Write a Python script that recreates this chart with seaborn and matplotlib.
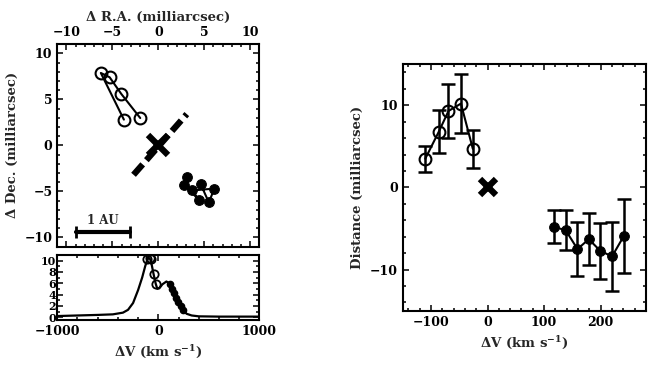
import numpy as np
import matplotlib
matplotlib.use("Agg")
import matplotlib.pyplot as plt
import seaborn as sns
from matplotlib.ticker import MultipleLocator

# Sky positions of the maser spots (milliarcsec), ordered by velocity
ra_open = [-1.97, -4.04, -5.3, -6.26, -3.75]
dec_open = [2.97, 5.6, 7.4, 7.87, 2.8]
ra_fill = [3.1, 2.8, 4.4, 3.7, 6.1, 5.5, 4.6]
dec_fill = [-3.4, -4.3, -5.9, -4.9, -4.7, -6.2, -4.2]

# Disk axis (dashed) and 1 AU scale bar
disk_ra = [-2.7, 3.1]
disk_dec = [-3.2, 3.4]
au_ra = [-8.97, -3.04]
au_dec = [-9.46, -9.46]

# Velocity / distance data
v_open = [-110, -86, -69, -47, -26]
dist_open = [3.5, 6.8, 9.3, 10.2, 4.7]
err_open = [1.6, 2.6, 3.3, 3.6, 2.3]
v_fill = [117, 138, 159, 179, 199, 220, 241]
dist_fill = [-4.8, -5.2, -7.5, -6.3, -7.7, -8.4, -5.9]
err_fill = [2.0, 2.4, 3.3, 3.2, 3.4, 4.2, 4.5]

# Spectrum
spec_v = [-1000, -800, -600, -450, -350, -300, -250, -200, -160, -130, -110, -95,
          -80, -65, -47, -26, -10, 10, 40, 80, 117, 140, 170, 200, 240, 280, 330,
          400, 600, 800, 1000]
spec_f = [0.2, 0.3, 0.4, 0.5, 0.8, 1.3, 2.5, 4.8, 7.0, 9.0, 10.1, 10.5,
          10.2, 9.2, 7.6, 5.9, 5.0, 5.1, 5.8, 6.3, 5.9, 5.1, 3.9, 2.7, 1.3, 0.6, 0.3,
          0.15, 0.1, 0.1, 0.1]
flux_open = [10.2, 10.4, 10.2, 7.6, 5.9]
flux_fill = [5.8, 5.0, 4.2, 3.4, 2.6, 1.9, 1.3]

sns.set_style("ticks")
plt.rcParams["font.family"] = ["DejaVu Serif"]
plt.rcParams["font.weight"] = "bold"
plt.rcParams["axes.labelweight"] = "bold"
plt.rcParams["axes.labelsize"] = 9.5
plt.rcParams["mathtext.fontset"] = "dejavuserif"
plt.rcParams["mathtext.default"] = "bf"
plt.rcParams["lines.scale_dashes"] = False
plt.rcParams["font.size"] = 9

fig = plt.figure(figsize=(6.54, 3.68), dpi=100)
ax_sky = fig.add_axes([0.0876, 0.330, 0.309, 0.550])
ax_spec = fig.add_axes([0.0876, 0.1304, 0.309, 0.177])
ax_dist = fig.add_axes([0.6157, 0.1557, 0.372, 0.670])


def style_axes(ax):
    for sp in ax.spines.values():
        sp.set_linewidth(1.5)
        sp.set_color("black")
    ax.tick_params(which="both", direction="in", top=True, right=True,
                   width=1.1, colors="black", labelsize=9)
    ax.tick_params(which="major", length=4.5)
    ax.tick_params(which="minor", length=2.2)


open_kw = dict(marker="o", markersize=8.5, markerfacecolor="none",
               markeredgecolor="black", markeredgewidth=1.5)
fill_kw = dict(marker="o", markersize=7, markerfacecolor="black",
               markeredgecolor="black")

# --- sky map ---
sns.lineplot(x=ra_open, y=dec_open, sort=False, estimator=None, ax=ax_sky,
             color="black", lw=1.5, **open_kw)
sns.lineplot(x=ra_fill, y=dec_fill, sort=False, estimator=None, ax=ax_sky,
             color="black", lw=1.5, **fill_kw)
ax_sky.plot(disk_ra, disk_dec, color="black", lw=4.5, dashes=(10, 4),
            dash_capstyle="butt")
ax_sky.plot([0], [0], marker="x", color="black", markersize=15, mew=4.5)
ax_sky.plot(au_ra, au_dec, color="black", lw=3, marker="|", markersize=8, mew=2)
ax_sky.text(np.mean(au_ra), au_dec[0] + 0.6, "1 AU", ha="center", va="bottom",
            fontsize=8.5, fontweight="bold")
ax_sky.set_xlim(-11, 11)
ax_sky.set_ylim(-11, 11)
ax_sky.xaxis.set_major_locator(MultipleLocator(5))
ax_sky.xaxis.set_minor_locator(MultipleLocator(1))
ax_sky.yaxis.set_major_locator(MultipleLocator(5))
ax_sky.yaxis.set_minor_locator(MultipleLocator(1))
style_axes(ax_sky)
ax_sky.tick_params(labeltop=True, labelbottom=False)
ax_sky.xaxis.set_label_position("top")
ax_sky.set_xlabel("Δ R.A. (milliarcsec)")
ax_sky.set_ylabel("Δ Dec. (milliarcsec)")

# --- spectrum ---
sns.lineplot(x=spec_v, y=spec_f, sort=False, estimator=None, ax=ax_spec,
             color="black", lw=1.6)
ax_spec.plot(v_open, flux_open, ls="none", marker="o", markersize=6,
             markerfacecolor="none", markeredgecolor="black", mew=1.3)
ax_spec.plot(v_fill, flux_fill, ls="none", marker="o", markersize=4.5,
             color="black")
ax_spec.set_xlim(-1000, 1000)
ax_spec.set_ylim(-0.5, 11)
ax_spec.xaxis.set_major_locator(MultipleLocator(1000))
ax_spec.xaxis.set_minor_locator(MultipleLocator(200))
ax_spec.yaxis.set_major_locator(MultipleLocator(2))
ax_spec.yaxis.set_minor_locator(MultipleLocator(1))
style_axes(ax_spec)
ax_spec.tick_params(axis="y", labelsize=8, pad=1)
ax_spec.set_xlabel("ΔV (km s$^{-1}$)")

# --- distance vs velocity ---
ax_dist.errorbar(v_open, dist_open, yerr=err_open, fmt="none", ecolor="black",
                 elinewidth=1.8, capsize=5, capthick=1.8)
ax_dist.errorbar(v_fill, dist_fill, yerr=err_fill, fmt="none", ecolor="black",
                 elinewidth=1.8, capsize=5, capthick=1.8)
sns.lineplot(x=v_open, y=dist_open, sort=False, estimator=None, ax=ax_dist,
             color="black", lw=1.5, **open_kw)
sns.lineplot(x=v_fill, y=dist_fill, sort=False, estimator=None, ax=ax_dist,
             color="black", lw=1.5, **fill_kw)
ax_dist.plot([0], [0], marker="x", color="black", markersize=12, mew=4.5)
ax_dist.set_xlim(-150, 280)
ax_dist.set_ylim(-15, 15)
ax_dist.xaxis.set_major_locator(MultipleLocator(100))
ax_dist.xaxis.set_minor_locator(MultipleLocator(20))
ax_dist.yaxis.set_major_locator(MultipleLocator(10))
ax_dist.yaxis.set_minor_locator(MultipleLocator(2))
style_axes(ax_dist)
ax_dist.set_xlabel("ΔV (km s$^{-1}$)")
ax_dist.set_ylabel("Distance (milliarcsec)")

fig.savefig("out.png", dpi=100)
